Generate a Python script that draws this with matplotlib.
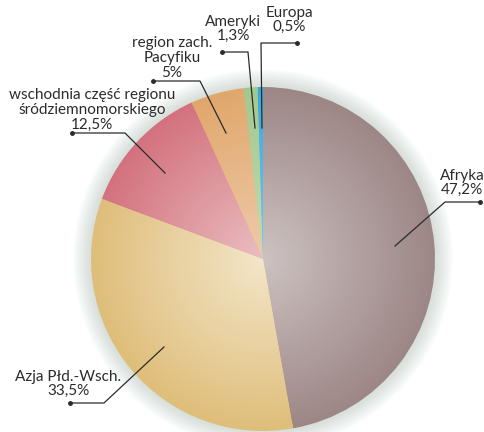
import matplotlib.pyplot as plt
import matplotlib.colors as mcolors
import numpy as np

plt.rcParams['font.family'] = ['Lato', 'DejaVu Sans']

# udział regionów (%), zgodnie z ruchem wskazówek zegara od góry
regions = ["Afryka", "Azja Płd.-Wsch.", "wschodnia część regionu\nśródziemnomorskiego",
           "region zach.\nPacyfiku", "Ameryki", "Europa"]
shares = [47.2, 33.5, 12.5, 5.0, 1.3, 0.5]
outer_cols = ["#9d8686", "#dfbe7b", "#d3727e", "#e0a76c", "#a2c78d", "#34a9de"]
inner_cols = ["#cdc3c2", "#f3e6ca", "#eabfc1", "#efcbab", "#c4dcb4", "#7cc8ec"]

W, H = 484, 432
fig = plt.figure(figsize=(W / 100, H / 100), dpi=100)
ax = fig.add_axes([0, 0, 1, 1])

cx, cy, R = 263, H - 259, 172

# miękki cień wokół koła
for k in range(18):
    ax.add_patch(plt.Circle((cx, cy), R + 18 - k, color="#b5c6bb", alpha=0.03, lw=0))

# gradient promieniowy: kolejne warstwy coraz jaśniejsze ku środkowi
n = 40
for k in range(n):
    t = k / n
    cols = [tuple(np.array(mcolors.to_rgb(o)) * (1 - t) + np.array(mcolors.to_rgb(i)) * t)
            for o, i in zip(outer_cols, inner_cols)]
    ax.pie(shares, colors=cols, startangle=90, counterclock=False,
           radius=R * (1 - t), center=(cx, cy), frame=True,
           wedgeprops=dict(linewidth=0))
ax.set_xlim(0, W)
ax.set_ylim(0, H)
ax.set_aspect('equal')
ax.axis('off')

# etykiety z liniami odniesienia (punkty w pikselach od góry)
labels = [
    ("Afryka\n47,2%", (462, 183), [(480, 202), (445, 202), (395, 246)]),
    ("Azja Płd.-Wsch.\n33,5%", (68, 384), [(70, 403), (104, 403), (164, 347)]),
    ("wschodnia część regionu\nśródziemnomorskiego\n12,5%", (92, 110),
     [(72, 133), (125, 133), (165, 173)]),
    ("region zach.\nPacyfiku\n5%", (172, 58), [(153, 81), (200, 81), (226, 133)]),
    ("Ameryki\n1,3%", (233, 29), [(222, 52), (248, 52), (255, 128)]),
    ("Europa\n0,5%", (289, 20), [(297, 43), (261, 43), (262, 128)]),
]
for (name, val), (text, (tx, ty), pts) in zip(zip(regions, shares), labels):
    ax.text(tx, H - ty, text, ha='center', va='center', fontsize=11,
            color="#2b2b2b", linespacing=1.05)
    xs = [p[0] for p in pts]
    ys = [H - p[1] for p in pts]
    ax.plot(xs, ys, color="#2b2b2b", lw=0.9)
    ax.plot(xs[0], ys[0], 'o', color="#2b2b2b", ms=2.5)

fig.savefig("out.png", dpi=100)
